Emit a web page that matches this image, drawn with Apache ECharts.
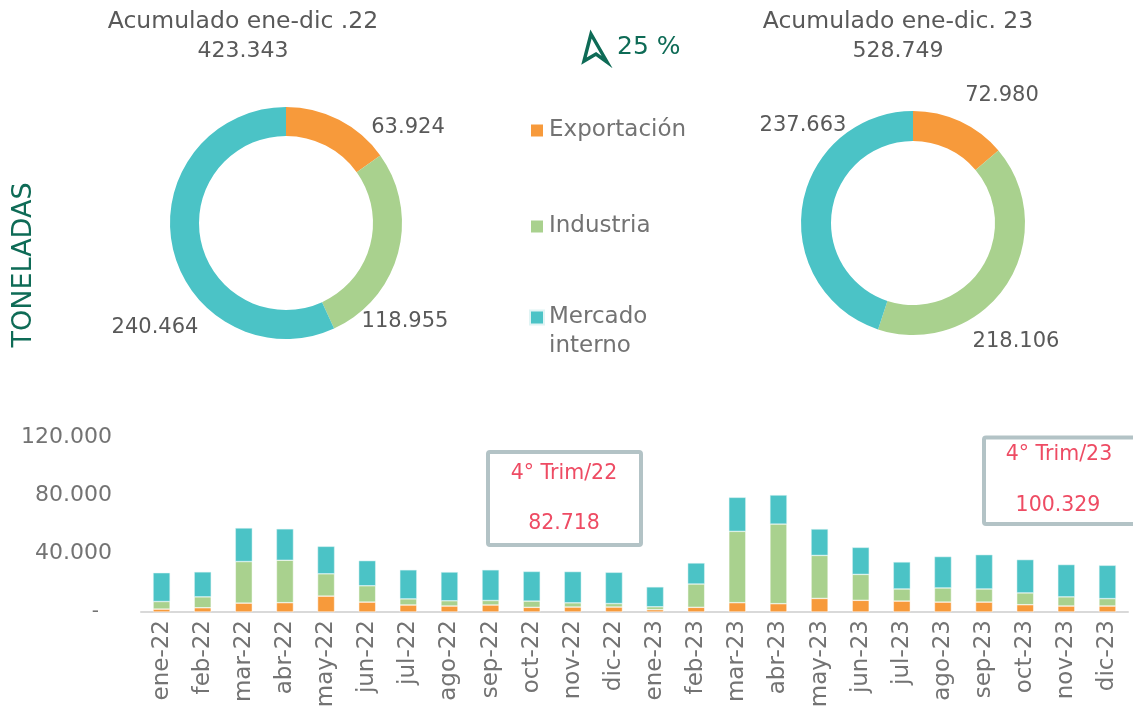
<!DOCTYPE html>
<html>
<head>
<meta charset="utf-8">
<script src="https://cdn.jsdelivr.net/npm/echarts@6/dist/echarts.min.js"></script>
<style>
  html, body { margin: 0; padding: 0; background: #fff; }
  #main { width: 1133px; height: 718px; }
</style>
</head>
<body>
<div id="main"></div>
<script>
const segments = ['Exportación', 'Industria', 'Mercado interno'];
const pie22 = [63924, 118955, 240464];
const pie23 = [72980, 218106, 237663];

const months = ['ene-22', 'feb-22', 'mar-22', 'abr-22', 'may-22', 'jun-22', 'jul-22', 'ago-22', 'sep-22', 'oct-22', 'nov-22', 'dic-22',
  'ene-23', 'feb-23', 'mar-23', 'abr-23', 'may-23', 'jun-23', 'jul-23', 'ago-23', 'sep-23', 'oct-23', 'nov-23', 'dic-23'];
const exportacion = [2000, 2900, 6100, 6400, 10900, 6800, 4800, 4100, 4800, 3200, 3400, 3400,
  1600, 3200, 6400, 5700, 9300, 8000, 7500, 6800, 6800, 5000, 4100, 4100];
const industria = [5200, 7500, 28500, 29100, 15300, 11200, 4200, 3600, 3100, 4300, 2900, 2400,
  2000, 16000, 48900, 54600, 29500, 17800, 8300, 9700, 9000, 8100, 6300, 5100];
const mercado = [19700, 17100, 23000, 21500, 18800, 17200, 19900, 19700, 21000, 20300, 21400, 21400,
  13600, 14400, 23300, 19900, 18100, 18500, 18500, 21500, 23500, 22800, 22100, 22800];
const yTicks = [0, 40000, 80000, 120000];
const trim22 = '82.718';
const trim23 = '100.329';

const colors = ['#f79a3b', '#a9d18e', '#4bc3c6'];
const grey = '#595959';
const greyLight = '#737373';
const greenDark = '#0e6b56';
const red = '#ee4b63';
const font = 'DejaVu Sans';

// where Excel put the doughnut value labels (center of each label)
const labelSpots = [
  [[408, 128], [405, 322], [155, 328]],
  [[1002, 96], [1016, 342], [803, 126]]
];

function fmt(v) {
  return String(Math.round(v)).replace(/\B(?=(\d{3})+(?!\d))/g, '.');
}
const sum = a => a.reduce((s, v) => s + v, 0);
const growth = Math.round((sum(pie23) / sum(pie22) - 1) * 100);

const chart = echarts.init(document.getElementById('main'));

const pieLabel = {
  show: true,
  position: 'outside',
  alignTo: 'none',
  overflow: 'none',
  fontFamily: font,
  fontSize: 21,
  color: grey,
  formatter: p => fmt(p.value)
};

function txt(x, y, text, size, color, extra) {
  return Object.assign({
    type: 'text', x: x, y: y,
    style: { text: text, align: 'center', verticalAlign: 'middle', fontFamily: font, fontSize: size, fill: color }
  }, extra || {});
}

const legendBase = {
  orient: 'vertical',
  left: 529,
  padding: 0,
  icon: 'rect',
  itemWidth: 14,
  itemHeight: 14,
  textStyle: { fontFamily: font, fontSize: 23, color: greyLight, lineHeight: 29 }
};

const option = {
  animation: false,
  color: colors,
  textStyle: { fontFamily: font },
  legend: [
    Object.assign({}, legendBase, { top: 116, itemGap: 67, data: segments.slice(0, 2) }),
    // two-line entry: an empty first line keeps the marker level with "Mercado"
    Object.assign({}, legendBase, {
      top: 274, data: segments.slice(2),
      formatter: n => '\n' + n.replace(' ', '\n')
    })
  ],
  grid: { left: 141, right: 5, top: 437, bottom: 106 },
  xAxis: {
    type: 'category',
    data: months,
    axisTick: { show: false },
    axisLine: { lineStyle: { color: '#d9d9d9', width: 2 } },
    axisLabel: { rotate: 90, fontFamily: font, fontSize: 23, color: greyLight, margin: 8, interval: 0 }
  },
  yAxis: {
    type: 'value',
    min: yTicks[0],
    max: yTicks[yTicks.length - 1],
    interval: yTicks[1] - yTicks[0],
    splitLine: { show: false },
    axisLine: { show: false },
    axisTick: { show: false },
    axisLabel: {
      fontFamily: font, fontSize: 22, color: greyLight, margin: 29,
      formatter: v => v === 0 ? '{d|-}' : fmt(v),
      rich: { d: { fontFamily: font, fontSize: 20, color: greyLight, padding: [0, 13, 0, 0] } }
    }
  },
  series: [
    {
      name: '2022', type: 'pie', center: [286, 223], radius: [87, 116],
      label: pieLabel, labelLine: { show: false },
      labelLayout: p => ({ x: labelSpots[0][p.dataIndex][0], y: labelSpots[0][p.dataIndex][1], align: 'center', verticalAlign: 'middle' }),
      silent: true,
      data: segments.map((n, i) => ({ name: n, value: pie22[i] }))
    },
    {
      name: '2023', type: 'pie', center: [913, 223], radius: [82, 112],
      label: pieLabel, labelLine: { show: false },
      labelLayout: p => ({ x: labelSpots[1][p.dataIndex][0], y: labelSpots[1][p.dataIndex][1], align: 'center', verticalAlign: 'middle' }),
      silent: true,
      data: segments.map((n, i) => ({ name: n, value: pie23[i] }))
    },
    { name: segments[0], type: 'bar', stack: 't', barWidth: 17, data: exportacion,
      itemStyle: { color: colors[0], borderColor: '#fff', borderWidth: 0.5 } },
    { name: segments[1], type: 'bar', stack: 't', barWidth: 17, data: industria,
      itemStyle: { color: colors[1], borderColor: '#fff', borderWidth: 0.5 } },
    { name: segments[2], type: 'bar', stack: 't', barWidth: 17, data: mercado,
      itemStyle: { color: colors[2], borderColor: '#e0f4f4', borderWidth: 0.5 } }
  ],
  graphic: [
    txt(243, 22, 'Acumulado ene-dic .22', 23.5, grey),
    txt(243, 51, fmt(sum(pie22)), 22, grey),
    txt(898, 22, 'Acumulado ene-dic. 23', 23.5, grey),
    txt(898, 51, fmt(sum(pie23)), 22, grey),
    { type: 'polygon', shape: { points: [[591, 34], [607, 62], [596, 54], [584, 61]] },
      style: { fill: 'none', stroke: greenDark, lineWidth: 3.5, lineJoin: 'miter' } },
    { type: 'text', x: 617, y: 47, style: { text: growth + ' %', verticalAlign: 'middle', fontFamily: font, fontSize: 25, fill: greenDark } },
    txt(24, 265, 'TONELADAS', 27, greenDark, { rotation: Math.PI / 2 }),
    { type: 'rect', shape: { x: 488, y: 452, width: 153, height: 93, r: 2 },
      style: { fill: '#fff', stroke: '#b3c3c6', lineWidth: 4 } },
    txt(564, 474, '4° Trim/22', 20.5, red),
    txt(564, 524, trim22, 20.5, red),
    { type: 'rect', shape: { x: 984, y: 437.5, width: 160, height: 86.5, r: 2 },
      style: { fill: '#fff', stroke: '#b3c3c6', lineWidth: 4 } },
    txt(1059, 455, '4° Trim/23', 20.5, red),
    txt(1058, 506, trim23, 20.5, red)
  ]
};

chart.setOption(option);
</script>
</body>
</html>
